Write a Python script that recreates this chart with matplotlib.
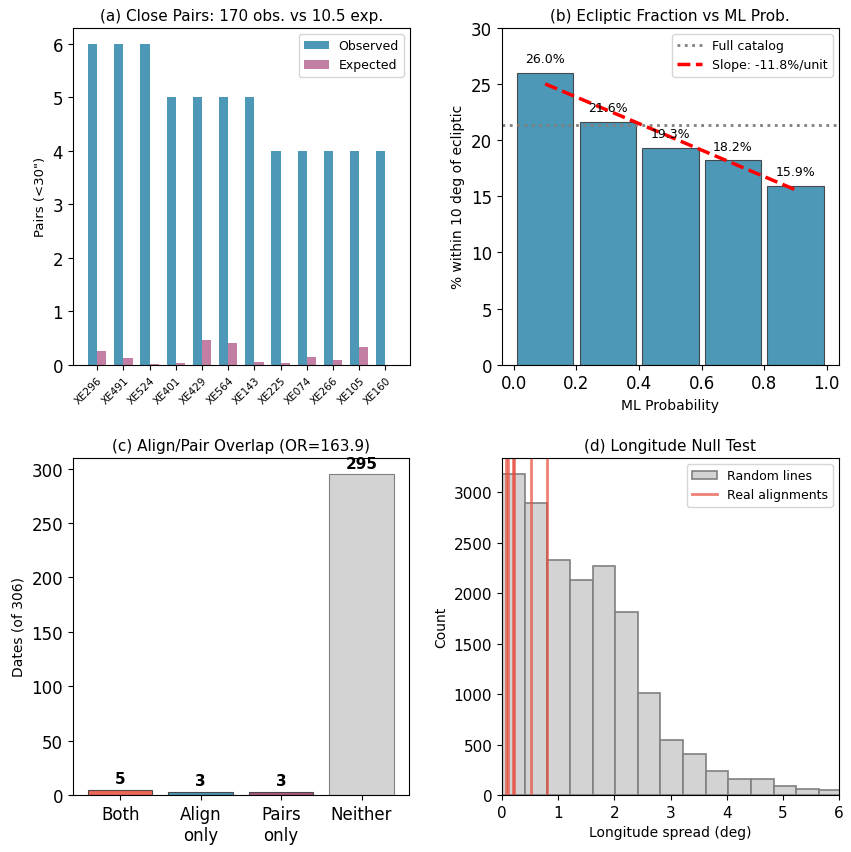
import matplotlib
matplotlib.use("Agg")
import matplotlib.pyplot as plt
import numpy as np

# ---- data ----
pair_names = ["XE296", "XE491", "XE524", "XE401", "XE429", "XE564",
              "XE143", "XE225", "XE074", "XE266", "XE105", "XE160"]
pairs_observed = [6, 6, 6, 5, 5, 5, 5, 4, 4, 4, 4, 4]
pairs_expected = [0.25, 0.13, 0.02, 0.04, 0.46, 0.41, 0.05, 0.04, 0.15, 0.08, 0.33, 0.0]

ml_bin_centers = [0.1, 0.3, 0.5, 0.7, 0.9]
ecl_pct = [26.0, 21.6, 19.3, 18.2, 15.9]
full_catalog_pct = 21.4
slope_per_unit = -11.8
slope_intercept = 26.2

overlap_cats = ["Both", "Align\nonly", "Pairs\nonly", "Neither"]
overlap_counts = [5, 3, 3, 295]

hist_bin_width = 0.403
hist_counts = [3181, 2894, 2327, 2135, 2267, 1815, 1013, 548, 409, 234, 155, 155, 92, 63, 46]
real_alignments = [0.08, 0.11, 0.19, 0.21, 0.51, 0.80]

# ---- figure ----
W, H = 851, 853
fig = plt.figure(figsize=(W / 100, H / 100), dpi=100)

def pos(l, t, r, b):
    return [l / W, 1 - b / H, (r - l) / W, (b - t) / H]

ax1 = fig.add_axes(pos(72.7, 29, 410, 365.7))
ax2 = fig.add_axes(pos(501.7, 29, 839, 365.7))
ax3 = fig.add_axes(pos(72.7, 459, 409, 796))
ax4 = fig.add_axes(pos(502, 459, 839, 796))

blue = "#2E86AB"
purple = "#A23B72"

# (a)
x = np.arange(len(pair_names))
w = 0.35
ax1.bar(x - w / 2, pairs_observed, w, color=blue, alpha=0.85, label="Observed")
ax1.bar(x + w / 2, pairs_expected, w, color=purple, alpha=0.65, label="Expected")
ax1.set_xticks(x)
ax1.set_xticklabels(pair_names, rotation=45, ha="right", fontsize=7.5, rotation_mode="anchor")
ax1.tick_params(axis="y", labelsize=12)
ax1.set_ylabel('Pairs (<30")', fontsize=9.5)
ax1.set_title("(a) Close Pairs: 170 obs. vs 10.5 exp.", fontsize=11)
ax1.legend(fontsize=9, loc="upper right")

# (b)
ax2.bar(ml_bin_centers, ecl_pct, width=0.18, color=blue, alpha=0.85, edgecolor="#333333", linewidth=0.8)
for xc, v in zip(ml_bin_centers, ecl_pct):
    ax2.text(xc, v + 0.7, f"{v:.1f}%", ha="center", va="bottom", fontsize=9)
ax2.axhline(full_catalog_pct, color="gray", linestyle=":", linewidth=2, label="Full catalog")
xs = np.array([ml_bin_centers[0], ml_bin_centers[-1]])
ax2.plot(xs, slope_intercept + slope_per_unit * xs, "r--", linewidth=2.5,
         label=f"Slope: {slope_per_unit:.1f}%/unit")
ax2.set_ylim(0, 30)
ax2.tick_params(labelsize=12)
ax2.set_xlabel("ML Probability", fontsize=10)
ax2.set_ylabel("% within 10 deg of ecliptic", fontsize=10)
ax2.set_title("(b) Ecliptic Fraction vs ML Prob.", fontsize=11)
ax2.legend(fontsize=9, loc="upper right")

# (c)
ccolors = ["#E74C3C", blue, purple, "lightgray"]
calphas = [0.85, 0.85, 0.85, 1.0]
bars = ax3.bar(range(len(overlap_cats)), overlap_counts, color=ccolors, edgecolor="#333333", linewidth=0.8)
for b_, a_ in zip(bars, calphas):
    b_.set_alpha(a_)
bars[3].set_edgecolor("gray")
for i, v in enumerate(overlap_counts):
    ax3.text(i, v + 3, str(v), ha="center", va="bottom", fontsize=11, fontweight="bold")
ax3.set_xticks(range(len(overlap_cats)))
ax3.set_xticklabels(overlap_cats)
ax3.tick_params(labelsize=12)
ax3.set_ylabel("Dates (of 306)", fontsize=10)
ax3.set_title("(c) Align/Pair Overlap (OR=163.9)", fontsize=11)

# (d)
edges = np.arange(len(hist_counts) + 1) * hist_bin_width
centers = (edges[:-1] + edges[1:]) / 2
ax4.hist(centers, bins=edges, weights=hist_counts, color="lightgray", edgecolor="gray",
         linewidth=1.2, label="Random lines")
for i, v in enumerate(real_alignments):
    ax4.axvline(v, color="#E74C3C", alpha=0.7, linewidth=2,
                label="Real alignments" if i == 0 else None)
ax4.set_xlim(0, 6)
ax4.tick_params(labelsize=11)
ax4.set_xlabel("Longitude spread (deg)", fontsize=10)
ax4.set_ylabel("Count", fontsize=10)
ax4.set_title("(d) Longitude Null Test", fontsize=11)
ax4.legend(fontsize=9, loc="upper right")

fig.savefig("out.png", dpi=100)
